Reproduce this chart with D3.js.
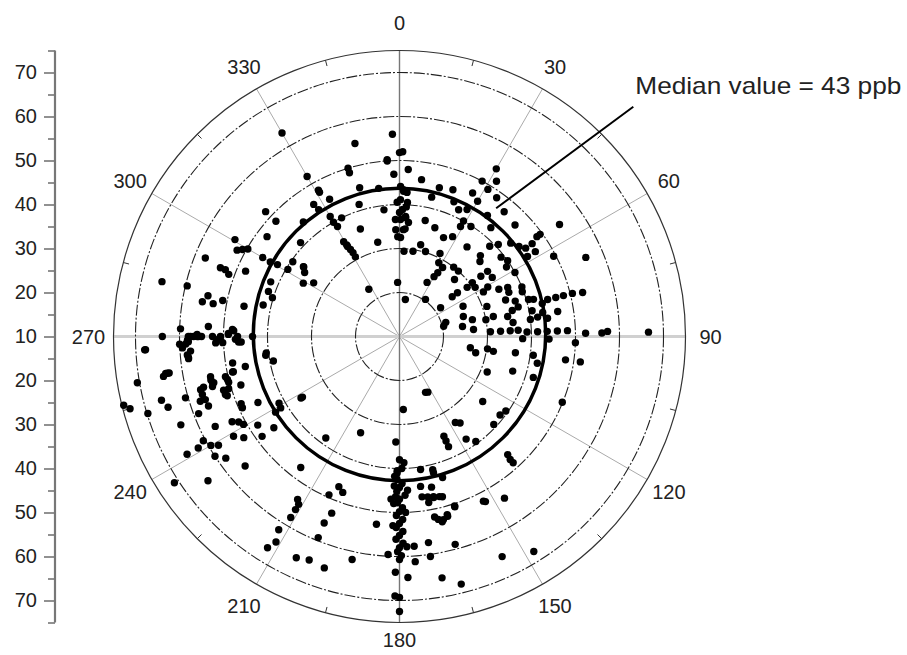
<!DOCTYPE html>
<head>
    <meta charset="utf-8">
    <title>Polar plot</title>
    <script src="https://cdn.jsdelivr.net/npm/d3@7"></script>
    <style>
        body { margin: 0; background: #fff; }
        svg { display: block; font-family: "Liberation Sans", Arial, Helvetica, sans-serif; }
    </style>
</head>
<body>
<div id="container"></div>

<script>

// Chart dimensions
const width = 907;
const height = 655;
const cx = 399.5;
const cy = 336.5;
const rMax = 286;

// Wind direction (degrees) of each observation
const dirDeg = [
    1,3,8,15,13,30,28,32,31,27,
    30,28,29,33,29,25,40,46,55,3,
    3,3,12.5,18,24,28,13,17,9,3,
    26,28,32,31,38,42,37,45,47,45,
    47,52,55,57,61,53,55,55,54,54,
    58,58,62.5,67,27,30,44,53,53,54,
    53.5,57,53.5,53.5,57.5,60.7,62,64.6,65.6,68,
    71,68,70,73,76,77,74,74.5,79,77,
    80.5,82,76,76,76,76,76.5,81,83,89,
    89,88.6,89,87,87,87,87,88,88,88,
    88,88,73,55,35,9,64.5,72.6,77,71,
    78,79,79.5,83,82.6,81,84.6,77,0,1.5,
    3,0.4,1.6,0.4,3.4,1.4,2.9,0.5,4.5,2.1,
    0.6,91,91,92,36,40,22,20,35,50,
    99,102,98,99,98,98,101,107,98,98,
    112,107,112,153,177,128,128,125,133,147,
    145,156,156,156,147,144,137.5,138,138,171,
    166,163,166,172,168,172,168,170,166,169,
    167,165,162,152.5,147,178,176,172,172,176,
    165,155,148,178,170,166,162,168,166.5,165,
    170,168,165,155,153,
    181,179,180,181,178,180,182,179,180,181,
    179,180,181,179,180,181,179,180,180.5,179.5,
    180,181,181.4,180.7,178,179,182,178,182,183,
    177,180,181,181,181,180,180,182,183,187,
    202,238,182,216,217,204,202,200,212,211,
    211,211,212,211,212,201,202,202,205,202,
    198,192,262,259,260,260.4,261,261,261,258,
    257,255,253,251,261,258,259,256,253,251.6,
    257,256,255.5,253,258,256,255,255,253.6,252,
    252,250,254,255,253,256,255,253,249,248,
    244,247,245.6,245,241,239,238.6,238,243,242,
    240.6,239,237,238,234,234,242,240,239,241,
    241,237,235,230,237,233,267,267,267,268,
    268.6,265,264,268,269,268,268,268,269,266,
    264.3,269,269,268,263,
    358,347,356,343,343,330,331,358,327,299,
    302,306,304,331,330,331,330,333,327,327.5,
    343,353,330,330,330.6,334,340,347,358,359,
    329.5,330,330.6,313.5,313,313,307,300,300,300.5,
    300.5,298,299,300,292,291,291,290,293,301,
    305,306,293,289,287,283,281,280,280,282,
    281.5,283,283.4,272,273,272.4,271,270,270,270,
    270,270.6,270,270,272,270,270,270.7,270,270,
    270,359,0,358,358,356,331,352,345,320
];

// Concentration (ppb) of each observation
const ppb = [
    52,48,46,45,42.5,54,50,51.6,49,46.6,
    45.5,42.7,40,39.8,38.6,41.8,42.3,46.5,54.4,39.5,
    37,34.5,37,36,34.6,35.7,31.4,30.2,29.6,29.4,
    31,29,28.5,26.9,30,30,35.5,36,35,39,
    40.7,39.3,40,39,40,44,45,46.8,48.6,49.5,
    44.3,46.4,49.5,56,23.8,25.7,28,26.5,25,29,
    30.6,30.5,33,34.9,35,33,31.6,35,37,36.8,
    35.5,40,39.7,37.5,37.8,36.3,40.5,41.6,40.7,43.3,
    43,41.7,44.7,46.6,48.4,50.5,52.8,46.4,43.9,52.3,
    56,57.3,66.6,30.7,33,35.2,37,39,41.4,43.6,
    45.9,48.2,21,21.4,20.3,18.5,26,25.2,27,31,
    31.8,30,35,36,40,24.5,26.9,20.3,51.8,43.4,
    42.8,44.1,43,41.1,40.5,38.9,37.3,36.6,36,34.3,
    32.5,38,44,50,44,47,43,45.5,48.5,43,
    26.3,27.7,30.2,31.6,36.6,40.7,41.9,41.8,48.1,51.5,
    31.5,36.9,49.9,24.2,26.6,34,39,39.5,39.3,33.3,
    34,34.8,36,37.4,37.8,39.5,46.4,47.6,48.6,40.6,
    41.2,43.5,41.9,44.4,45,46.8,47.4,48.3,47.5,51.8,
    53.2,52.3,50.7,52.3,53.8,57.8,57.8,57.3,60.5,61.3,
    58.9,65.2,67.6,64.8,65.7,68,50.5,52.5,52.8,51.9,
    47,47.2,47.7,24,52,
    42.5,43.4,44.3,45.2,46.1,47,48,48.9,49.8,50.7,
    51.6,52.5,53.4,54.3,55.2,56.1,57,58,58.9,59.8,
    60.7,41,46.4,47.8,38.7,40,44,50,53,47,
    45,38,40.5,63.6,69,72.5,69.3,41.8,59.6,53,
    33.6,36,34,38.5,47.3,49.4,46.8,47.7,53.7,54.5,
    55.9,58,61.8,64.5,66.6,53,55.7,59.3,65.5,64.8,
    65.3,61.8,40.7,39.2,70.5,64.4,63.4,63.8,63,48.8,
    50.6,50.2,51.8,51.4,48.4,48.6,45.7,50.3,50.6,51.7,
    54,53.8,56,47.7,53.9,53.5,54,56.8,56.7,56.4,
    57.6,56.2,60.6,66,65,74.6,73.4,69.8,58.9,63.6,
    56.6,49.1,49.2,45.5,41.3,41.5,43,36.4,52.7,51.4,
    50.7,54,52.2,48,48.6,45.3,60.5,59.5,58,62.3,
    65.2,60,58.2,55.8,71,64.5,68,67.8,59.4,58.6,
    58,58.4,58.2,51.8,51,50.2,46,60,58.2,57.6,
    58.2,51.4,47.3,46.6,40.5,
    56,55,50,50,48.9,52,48,22.3,22.8,35,
    33,36.9,36,30.7,34,31.8,63.4,45,45.8,44.2,
    41.4,39,41.5,40,38.7,40,36,32,34.3,32.7,
    35,33.6,32.7,41,51.6,48.4,47.7,45.9,43.9,42.2,
    53.4,51.8,50.8,49.8,57.6,53.6,52.4,51.3,48,39.6,
    39.6,37,41.8,41.5,40.2,41.8,46,55.5,53,54.5,
    51,65.4,59.6,59.8,53.5,48,48.9,63.9,58,56,
    57.5,56,55,52.5,47.7,46.8,43.4,48.9,50.7,55.7,
    56.8,40.5,38.2,36.6,46.9,50.3,47.5,44,45,44
];

// Axis and grid values
const angleTicks = [0, 30, 60, 90, 120, 150, 180, 210, 240, 270, 300, 330];
const minorAngles = [15, 45, 75, 105, 135, 165, 195, 225, 255, 285, 315, 345];
const ringValues = [20, 30, 40, 50, 60, 70];
const axisMajor = [10, 20, 30, 40, 50, 60, 70];
const axisMinor = [15, 25, 35, 45, 55, 65, 75];
const medianValue = 43;
const medianLabel = "Median value = 43 ppb";
// annotation arrow: [direction, ppb] of both ends
const arrowFrom = [37, 46.5];
const arrowTo = [45.5, 84.5];

// Radial scale (value 10 sits in the centre)
const r = d3.scaleLinear().domain([10, 75]).range([0, rMax]);

// polar -> screen
function polar(deg, v) {
    const a = deg * Math.PI / 180;
    return [cx + r(v) * Math.sin(a), cy - r(v) * Math.cos(a)];
}

// distance of the angle labels from the centre (180 sits a bit closer)
const labelR = d => r.invert(d === 180 ? 303 : d === 0 ? 314 : 311);

const svg = d3.create("svg")
              .attr("width", width)
              .attr("height", height);

// Spokes every 30 degrees
svg.append("g")
    .selectAll("line")
    .data(angleTicks.filter(d => d % 90 !== 0))
    .join("line")
    .attr("x1", cx).attr("y1", cy)
    .attr("x2", d => polar(d, 75)[0])
    .attr("y2", d => polar(d, 75)[1])
    .style("stroke", "#aaa")
    .style("stroke-width", 1);

// Horizontal line 270 - 90 (wide light grey)
svg.append("line")
    .attr("x1", polar(270, 75)[0]).attr("y1", cy)
    .attr("x2", polar(90, 75)[0]).attr("y2", cy)
    .style("stroke", "#d0d0d0")
    .style("stroke-width", 3);

// Vertical line 0 - 180
svg.append("line")
    .attr("x1", cx).attr("y1", polar(0, 75)[1])
    .attr("x2", cx).attr("y2", polar(180, 75)[1])
    .style("stroke", "#777")
    .style("stroke-width", 1.4);

// Dash-dot rings
svg.append("g")
    .selectAll("circle")
    .data(ringValues)
    .join("circle")
    .attr("cx", cx).attr("cy", cy)
    .attr("r", d => r(d))
    .style("fill", "none")
    .style("stroke", "#222")
    .style("stroke-width", 1.1)
    .style("stroke-dasharray", "11,2,2,2");

// Outer ring
svg.append("circle")
    .attr("cx", cx).attr("cy", cy)
    .attr("r", r(75))
    .style("fill", "none")
    .style("stroke", "#333")
    .style("stroke-width", 1.2);

// Minor ticks on the outer ring
svg.append("g")
    .selectAll("line")
    .data(minorAngles)
    .join("line")
    .attr("x1", d => polar(d, 75)[0])
    .attr("y1", d => polar(d, 75)[1])
    .attr("x2", d => polar(d, r.invert(rMax - 6))[0])
    .attr("y2", d => polar(d, r.invert(rMax - 6))[1])
    .style("stroke", "#333")
    .style("stroke-width", 1);

// Angle labels
svg.append("g")
    .selectAll("text")
    .data(angleTicks)
    .join("text")
    .attr("x", d => polar(d, labelR(d))[0])
    .attr("y", d => polar(d, labelR(d))[1])
    .attr("text-anchor", "middle")
    .attr("dominant-baseline", "central")
    .style("font-size", "20px")
    .style("fill", "#222")
    .text(d => d);

// Median circle
svg.append("circle")
    .attr("cx", cx).attr("cy", cy - 2)
    .attr("r", r(medianValue) + 1)
    .style("fill", "none")
    .style("stroke", "#000")
    .style("stroke-width", 3.5);

// Observations
svg.append("g")
    .selectAll("circle")
    .data(d3.zip(dirDeg, ppb))
    .join("circle")
    .attr("cx", d => polar(d[0], d[1])[0])
    .attr("cy", d => polar(d[0], d[1])[1])
    .attr("r", 3.7)
    .style("fill", "#000");

// Annotation
const p0 = polar(arrowFrom[0], arrowFrom[1]);
const p1 = polar(arrowTo[0], arrowTo[1]);
svg.append("line")
    .attr("x1", p0[0]).attr("y1", p0[1])
    .attr("x2", p1[0]).attr("y2", p1[1])
    .style("stroke", "#000")
    .style("stroke-width", 2);

svg.append("text")
    .attr("x", p1[0] + 2)
    .attr("y", p1[1] - 13)
    .attr("textLength", 266)
    .attr("lengthAdjust", "spacingAndGlyphs")
    .style("font-size", "24px")
    .style("fill", "#222")
    .text(medianLabel);

// Left axis: values grow away from the centre, up and down
const axisX = 55;
const yUp = d3.scaleLinear().domain([10, 75]).range([cy, cy - rMax]);
const yDown = d3.scaleLinear().domain([10, 75]).range([cy, cy + rMax]);

function styleAxis(g) {
    g.select(".domain").remove();
    g.selectAll(".tick line").style("stroke", "#555").style("stroke-width", 1.3);
    g.selectAll(".tick text").style("font-size", "20px").style("fill", "#222")
        .style("font-family", "'Liberation Sans', Arial, sans-serif");
}

svg.append("g")
    .attr("transform", `translate(${axisX},0)`)
    .call(d3.axisLeft(yUp).tickValues(axisMajor).tickSize(11).tickPadding(7).tickFormat(d3.format("d")))
    .call(styleAxis);

svg.append("g")
    .attr("transform", `translate(${axisX},0)`)
    .call(d3.axisLeft(yDown).tickValues(axisMajor.slice(1)).tickSize(11).tickPadding(7).tickFormat(d3.format("d")))
    .call(styleAxis);

svg.append("g")
    .attr("transform", `translate(${axisX},0)`)
    .call(d3.axisLeft(yUp).tickValues(axisMinor).tickSize(7).tickFormat(""))
    .call(styleAxis);

svg.append("g")
    .attr("transform", `translate(${axisX},0)`)
    .call(d3.axisLeft(yDown).tickValues(axisMinor).tickSize(7).tickFormat(""))
    .call(styleAxis);

svg.append("line")
    .attr("x1", axisX).attr("x2", axisX)
    .attr("y1", yUp(75)).attr("y2", yDown(75))
    .style("stroke", "#777")
    .style("stroke-width", 2.2);

container.append(svg.node());

</script>
</body>
